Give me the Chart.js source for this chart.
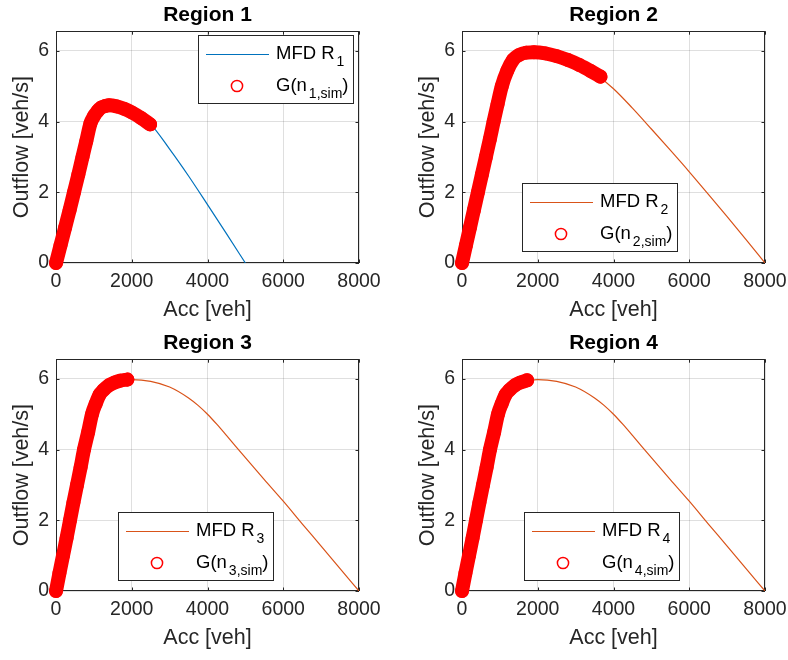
<!DOCTYPE html>
<html>
<head>
<meta charset="utf-8">
<script src="https://cdn.jsdelivr.net/npm/chart.js@4.4.1/dist/chart.umd.min.js"></script>
<style>
  html, body { margin: 0; padding: 0; background: #fff; width: 788px; height: 660px; overflow: hidden; }
  canvas { position: absolute; }
</style>
</head>
<body>
<canvas id="r1" width="382" height="330" style="left:0;top:0"></canvas>
<canvas id="r2" width="382" height="330" style="left:406px;top:0"></canvas>
<canvas id="r3" width="382" height="330" style="left:0;top:328px"></canvas>
<canvas id="r4" width="382" height="330" style="left:406px;top:328px"></canvas>
<script>
// MFD curves (accumulation veh -> outflow veh/s)
const mfdAcc1 = [0, 240, 475, 700, 910, 1000, 1100, 1200, 1400, 1600, 1800, 2000, 2250, 2500, 3000, 3500, 4000, 4500, 5000];
const mfdOut1 = [0, 1.0, 2.0, 3.0, 3.95, 4.15, 4.3, 4.4, 4.46, 4.43, 4.36, 4.26, 4.1, 3.92, 3.22, 2.46, 1.65, 0.83, 0];

const mfdAcc2 = [0, 210, 420, 630, 835, 1050, 1200, 1400, 1600, 1900, 2500, 3000, 3500, 4000, 4500, 5000, 5500, 6000, 6500, 7000, 7500, 8000];
const mfdOut2 = [0, 1.0, 2.0, 3.0, 4.0, 5.0, 5.45, 5.78, 5.92, 5.96, 5.85, 5.66, 5.36, 4.93, 4.38, 3.79, 3.19, 2.58, 1.95, 1.31, 0.66, 0];

const mfdAcc3 = [0, 185, 370, 555, 740, 950, 1100, 1250, 1400, 1600, 2000, 2500, 3000, 3500, 3750, 4000, 4250, 4500, 5000, 5500, 6000, 6500, 7000, 7500, 8000];
const mfdOut3 = [0, 1.0, 2.0, 3.0, 4.0, 5.0, 5.4, 5.68, 5.82, 5.92, 5.98, 5.93, 5.77, 5.46, 5.25, 5.0, 4.71, 4.4, 3.77, 3.15, 2.54, 1.9, 1.27, 0.63, 0];

const mfdAcc4 = [0, 185, 370, 555, 740, 950, 1100, 1250, 1400, 1600, 2000, 2500, 3000, 3500, 3750, 4000, 4250, 4500, 5000, 5500, 6000, 6500, 7000, 7500, 8000];
const mfdOut4 = [0, 1.0, 2.0, 3.0, 4.0, 5.0, 5.4, 5.68, 5.82, 5.92, 5.98, 5.93, 5.77, 5.46, 5.25, 5.0, 4.71, 4.4, 3.77, 3.15, 2.54, 1.9, 1.27, 0.63, 0];

// simulated points G(n_sim)
const simAcc1 = [0, 120, 240, 360, 475, 590, 700, 800, 910, 1000, 1100, 1200, 1300, 1400, 1600, 1800, 2000, 2250, 2485];
const simOut1 = [0, 0.5, 1.0, 1.5, 2.0, 2.5, 3.0, 3.45, 3.95, 4.15, 4.3, 4.4, 4.44, 4.46, 4.43, 4.36, 4.26, 4.1, 3.92];

const simAcc2 = [0, 105, 210, 315, 420, 525, 630, 735, 835, 940, 1050, 1200, 1350, 1500, 1700, 1900, 2200, 2500, 2800, 3100, 3400, 3656];
const simOut2 = [0, 0.5, 1.0, 1.5, 2.0, 2.5, 3.0, 3.5, 4.0, 4.5, 5.0, 5.45, 5.75, 5.88, 5.95, 5.96, 5.93, 5.85, 5.74, 5.6, 5.43, 5.27];

const simAcc3 = [0, 90, 185, 280, 370, 460, 555, 650, 740, 850, 950, 1050, 1150, 1250, 1400, 1550, 1700, 1885];
const simOut3 = [0, 0.5, 1.0, 1.5, 2.0, 2.5, 3.0, 3.5, 4.0, 4.5, 5.0, 5.3, 5.55, 5.68, 5.82, 5.9, 5.95, 5.98];

const simAcc4 = [0, 90, 185, 280, 370, 460, 555, 650, 740, 850, 950, 1050, 1150, 1250, 1400, 1550, 1720];
const simOut4 = [0, 0.5, 1.0, 1.5, 2.0, 2.5, 3.0, 3.5, 4.0, 4.5, 5.0, 5.3, 5.55, 5.68, 5.82, 5.9, 5.96];

const accTicks = [0, 2000, 4000, 6000, 8000];
const outTicks = [0, 2, 4, 6];
const accMax = 8000;
const outMax = 6.556;

const axisColor = '#262626';
const gridColor = 'rgba(38,38,38,0.15)';

Chart.defaults.font.family = "'Liberation Sans', Arial, sans-serif";
Chart.defaults.color = axisColor;

function toXY(xs, ys) {
  return xs.map((x, i) => ({ x: x, y: ys[i] }));
}

// draw "MFD R_1" / "G(n_{1,sim})" with real subscripts
function drawTex(ctx, x, y, str) {
  const parts = [];
  const re = /_\{([^}]*)\}|_(.)/g;
  let last = 0, m;
  while ((m = re.exec(str)) !== null) {
    if (m.index > last) parts.push([str.slice(last, m.index), false]);
    parts.push([m[1] !== undefined ? m[1] : m[2], true]);
    last = re.lastIndex;
  }
  if (last < str.length) parts.push([str.slice(last), false]);
  ctx.textBaseline = 'middle';
  ctx.textAlign = 'left';
  parts.forEach(p => {
    ctx.font = p[1] ? "14px 'Liberation Sans', Arial, sans-serif" : "18.5px 'Liberation Sans', Arial, sans-serif";
    const dx = p[1] ? 2 : 0;
    ctx.fillText(p[0], x + dx, p[1] ? y + 8 : y);
    x += ctx.measureText(p[0]).width + dx;
  });
}

const matlabBox = {
  id: 'matlabBox',
  beforeDatasetsDraw(chart) {
    const { ctx, chartArea: a, scales } = chart;
    const tl = 3.5;
    ctx.save();
    ctx.strokeStyle = axisColor;
    ctx.lineWidth = 1;
    ctx.beginPath();
    scales.x.ticks.forEach(t => {
      const px = Math.round(scales.x.getPixelForValue(t.value)) + 0.5;
      ctx.moveTo(px, a.bottom); ctx.lineTo(px, a.bottom - tl);
      ctx.moveTo(px, a.top); ctx.lineTo(px, a.top + tl);
    });
    scales.y.ticks.forEach(t => {
      const py = Math.round(scales.y.getPixelForValue(t.value)) + 0.5;
      ctx.moveTo(a.left, py); ctx.lineTo(a.left + tl, py);
      ctx.moveTo(a.right, py); ctx.lineTo(a.right - tl, py);
    });
    ctx.stroke();
    ctx.strokeRect(Math.round(a.left) + 0.5, Math.round(a.top) + 0.5, Math.round(a.width) - 1, Math.round(a.height) - 1);
    ctx.restore();
  },
  afterDatasetsDraw(chart, args, opts) {
    const { ctx, chartArea: a } = chart;
    const w = 155, h = 68;
    const lx = Math.round(opts.anchor === 'ne' ? a.right - opts.ox - w : a.left + opts.ox);
    const ly = Math.round(opts.anchor === 'ne' ? a.top + opts.oy : a.bottom - opts.oy - h);
    const ds = chart.data.datasets;
    ctx.save();
    ctx.fillStyle = '#fff';
    ctx.fillRect(lx, ly, w, h);
    ctx.strokeStyle = axisColor;
    ctx.lineWidth = 1;
    ctx.strokeRect(lx + 0.5, ly + 0.5, w, h);
    // line sample
    ctx.strokeStyle = ds[0].borderColor;
    ctx.lineWidth = 1.2;
    ctx.beginPath();
    ctx.moveTo(lx + 8, ly + 19.5);
    ctx.lineTo(lx + 71, ly + 19.5);
    ctx.stroke();
    // marker sample
    ctx.strokeStyle = ds[1].pointBorderColor;
    ctx.lineWidth = 1.5;
    ctx.beginPath();
    ctx.arc(lx + 39, ly + 51, 5.6, 0, Math.PI * 2);
    ctx.stroke();
    ctx.fillStyle = '#000';
    drawTex(ctx, lx + 78, ly + 19, ds[0].label);
    drawTex(ctx, lx + 78, ly + 51, ds[1].label);
    ctx.restore();
  }
};

function makeChart(id, k, mfdAcc, mfdOut, simAcc, simOut, mfdColor, legendPlace) {
  return new Chart(document.getElementById(id), {
    type: 'scatter',
    data: {
      datasets: [
        {
          label: 'MFD R_' + k,
          data: toXY(mfdAcc, mfdOut),
          showLine: true,
          borderColor: mfdColor,
          borderWidth: 1.2,
          pointRadius: 0,
          cubicInterpolationMode: 'monotone',
          order: 1
        },
        {
          label: 'G(n_{' + k + ',sim})',
          data: toXY(simAcc, simOut),
          showLine: true,
          borderColor: '#ff0000',
          borderWidth: 14,
          borderCapStyle: 'round',
          borderJoinStyle: 'round',
          cubicInterpolationMode: 'monotone',
          pointRadius: 6.2,
          pointBorderWidth: 1.5,
          pointBorderColor: '#ff0000',
          pointBackgroundColor: 'rgba(0,0,0,0)',
          clip: false,
          order: 0
        }
      ]
    },
    options: {
      responsive: false,
      animation: false,
      devicePixelRatio: 1,
      events: [],
      layout: { padding: { left: 0, right: 23, top: 0, bottom: 0 } },
      plugins: {
        legend: { display: false },
        tooltip: { enabled: false },
        title: {
          display: true,
          text: 'Region ' + k,
          fullSize: false,
          color: '#000',
          font: { size: 21, weight: 'bold' },
          padding: { top: 3, bottom: 3 }
        },
        matlabBox: legendPlace
      },
      scales: {
        x: {
          type: 'linear',
          min: 0,
          max: accMax,
          afterBuildTicks: s => { s.ticks = accTicks.map(v => ({ value: v })); },
          afterFit: s => { s.height = 67; s.paddingLeft = 0; s.paddingRight = 0; },
          grid: { color: gridColor, drawTicks: false },
          border: { display: false },
          ticks: { color: axisColor, font: { size: 19.5 }, padding: 7, maxRotation: 0, callback: v => String(v) },
          title: { display: true, text: 'Acc [veh]', color: axisColor, font: { size: 21.5 }, padding: { top: 0, bottom: 7 } }
        },
        y: {
          type: 'linear',
          min: 0,
          max: outMax,
          afterBuildTicks: s => { s.ticks = outTicks.map(v => ({ value: v })); },
          afterFit: s => { s.width = 56; s.paddingTop = 0; s.paddingBottom = 0; },
          grid: { color: gridColor, drawTicks: false },
          border: { display: false },
          ticks: { color: axisColor, font: { size: 19.5 }, padding: 7, callback: v => String(v) },
          title: { display: true, text: 'Outflow [veh/s]', color: axisColor, font: { size: 21.5 }, padding: { top: 9, bottom: 0 } }
        }
      }
    },
    plugins: [matlabBox]
  });
}

makeChart('r1', 1, mfdAcc1, mfdOut1, simAcc1, simOut1, '#0072BD', { anchor: 'ne', ox: 6, oy: 4 });
makeChart('r2', 2, mfdAcc2, mfdOut2, simAcc2, simOut2, '#D95319', { anchor: 'sw', ox: 60, oy: 12 });
makeChart('r3', 3, mfdAcc3, mfdOut3, simAcc3, simOut3, '#D95319', { anchor: 'sw', ox: 62, oy: 11 });
makeChart('r4', 4, mfdAcc4, mfdOut4, simAcc4, simOut4, '#D95319', { anchor: 'sw', ox: 62, oy: 11 });
</script>
</body>
</html>
